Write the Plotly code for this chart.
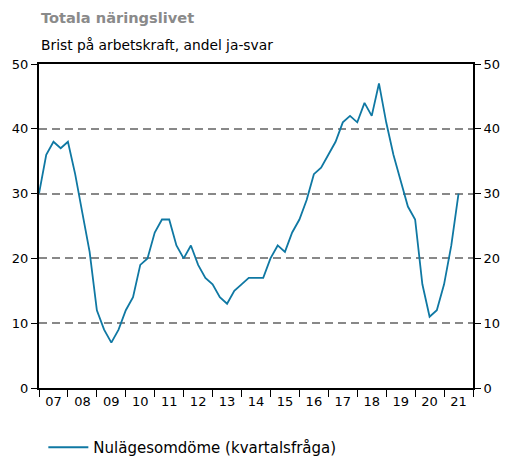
import plotly.graph_objects as go

# Quarterly values, 2007Q1 .. 2021Q3
years = ["07", "08", "09", "10", "11", "12", "13", "14",
         "15", "16", "17", "18", "19", "20", "21"]

brist = [30, 36, 38, 37,
         38, 33, 27, 21,
         12, 9, 7, 9,
         12, 14, 19, 20,
         24, 26, 26, 22,
         20, 22, 19, 17,
         16, 14, 13, 15,
         16, 17, 17, 17,
         20, 22, 21, 24,
         26, 29, 33, 34,
         36, 38, 41, 42,
         41, 44, 42, 47,
         41, 36, 32, 28,
         26, 16, 11, 12,
         16, 22, 30]

quarter = list(range(len(brist)))

FONT = "DejaVu Sans"
LINE_COL = "#0f78a3"

fig = go.Figure()

fig.add_trace(go.Scatter(
    x=quarter, y=brist, mode="lines",
    name="Nulägesomdöme (kvartalsfråga)",
    line=dict(color=LINE_COL, width=1.8),
))

# same series on the right axis, invisible, just so the axis gets drawn
fig.add_trace(go.Scatter(
    x=quarter, y=brist, mode="lines", yaxis="y2",
    line=dict(width=0), showlegend=False, hoverinfo="skip",
))

n_years = len(years)
yaxis_common = dict(
    range=[0, 50], dtick=10, tick0=0, automargin=False,
    showline=True, linecolor="black", linewidth=2,
    ticks="outside", ticklen=6, tickcolor="black", tickwidth=1,
    zeroline=False,
    tickfont=dict(family=FONT, size=13, color="black"),
)

# page body has an 8px margin, so the figure is 8px smaller than the window
fig.update_layout(
    width=500, height=450,
    margin=dict(l=31, r=35, t=56, b=70),
    paper_bgcolor="white", plot_bgcolor="white",
    font=dict(family=FONT, color="black"),
    xaxis=dict(
        range=[0, 4 * n_years], automargin=False,
        tickmode="array",
        tickvals=[4 * i + 2 for i in range(n_years)],
        ticktext=years,
        ticks="", showgrid=False, zeroline=False,
        showline=True, linecolor="black", linewidth=2, mirror=True,
        tickfont=dict(family=FONT, size=13, color="black"),
        minor=dict(tickmode="array",
                   tickvals=[4 * i for i in range(n_years + 1)],
                   ticks="outside", ticklen=7, tickcolor="black",
                   tickwidth=1, showgrid=False),
    ),
    yaxis=dict(
        **yaxis_common,
        showgrid=True, gridcolor="#888888", gridwidth=1.5,
        griddash="8px,5px",
    ),
    yaxis2=dict(
        **yaxis_common,
        overlaying="y", side="right", showgrid=False,
    ),
    showlegend=True,
    legend=dict(
        orientation="h", x=0.01, xanchor="left",
        yref="container", y=0.060, yanchor="top",
        itemwidth=40,
        font=dict(family=FONT, size=15, color="black"),
        bgcolor="rgba(0,0,0,0)",
    ),
    annotations=[
        dict(text="<b>Totala näringslivet</b>", xref="paper", yref="paper",
             x=0, y=1.142, xanchor="left", yanchor="middle", showarrow=False,
             font=dict(family=FONT, size=14.6, color="#8a8a8a")),
        dict(text="Brist på arbetskraft, andel ja-svar", xref="paper",
             yref="paper", x=0, y=1.059, xanchor="left", yanchor="middle",
             showarrow=False,
             font=dict(family=FONT, size=13.8, color="black")),
    ],
)

fig.write_html("out.html")
